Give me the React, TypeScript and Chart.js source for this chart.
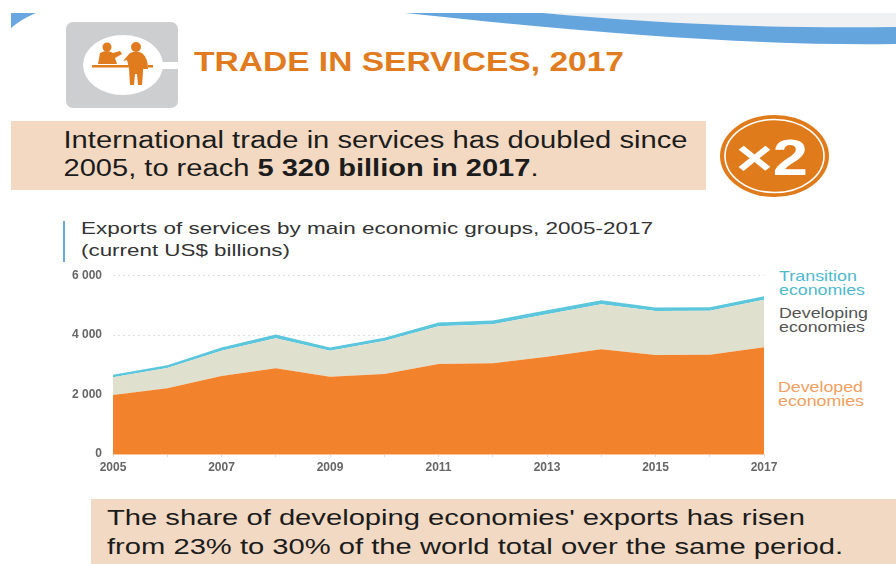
import React, { useEffect, useRef } from "react";
import { Chart, registerables } from "chart.js";

Chart.register(...registerables);

const years = ["2005","2006","2007","2008","2009","2010","2011","2012","2013","2014","2015","2016","2017"];
const developed = [1985,2210,2625,2883,2600,2690,3030,3050,3275,3523,3330,3340,3590];
const developing = [595,680,853,1014,878,1114,1270,1315,1425,1513,1478,1482,1597];
const transition = [90,100,110,125,110,110,125,130,135,135,120,115,125];
const yTicks = [0,2000,4000,6000];

const FONT = "'Liberation Sans', Arial, sans-serif";

function fmt(v: number) {
  return v === 0 ? "0" : `${Math.floor(v / 1000)} ${String(v % 1000).padStart(3, "0")}`;
}

type TProps = { x: number; y: number; w: number; size: number; fill: string; weight?: string; children: React.ReactNode };
function T({ x, y, w, size, fill, weight, children }: TProps) {
  return (
    <text x={x} y={y} textLength={w} lengthAdjust="spacingAndGlyphs" fontSize={size} fill={fill} fontWeight={weight || "normal"} fontFamily={FONT}>
      {children}
    </text>
  );
}

export default function App() {
  const ref = useRef<HTMLCanvasElement | null>(null);
  useEffect(() => {
    const chart = new Chart(ref.current!, {
      type: "line",
      data: {
        labels: years,
        datasets: [
          { label: "Developed economies", data: developed, backgroundColor: "#F3822D", borderWidth: 0, fill: "origin", pointRadius: 0, tension: 0 },
          { label: "Developing economies", data: developing, backgroundColor: "#DFE0CE", borderWidth: 0, fill: "-1", pointRadius: 0, tension: 0 },
          { label: "Transition economies", data: transition, backgroundColor: "#5CC6DC", borderWidth: 0, fill: "-1", pointRadius: 0, tension: 0 },
        ],
      },
      options: {
        animation: false,
        responsive: false,
        devicePixelRatio: 1,
        layout: { padding: { left: 0, right: 36, top: 13.7, bottom: 0 } },
        plugins: { legend: { display: false }, tooltip: { enabled: false } },
        scales: {
          x: {
            offset: false,
            grid: { drawOnChartArea: false, drawTicks: true, tickLength: 3, color: "#E8D8C8" },
            border: { color: "#F3C9A5", width: 1 },
            ticks: {
              autoSkip: false,
              maxRotation: 0,
              minRotation: 0,
              padding: 3,
              color: "#666666",
              font: { family: FONT, size: 12, weight: "bold" },
              callback: (_v, i) => (i % 2 === 0 ? years[i] : ""),
            },
            afterFit: (s: any) => { s.height = 26; },
          },
          y: {
            stacked: true,
            min: 0,
            max: 6000,
            afterBuildTicks: (s: any) => { s.ticks = yTicks.map((value) => ({ value })); },
            grid: { color: "#DEDEDA", lineWidth: 1, drawTicks: true, tickLength: 11, tickColor: "transparent" },
            border: { display: false, dash: [2, 3] },
            ticks: {
              padding: 0,
              color: "#666666",
              font: { family: FONT, size: 12, weight: "bold" },
              callback: (v) => fmt(Number(v)),
            },
            afterFit: (s: any) => { s.width = 53; },
          },
        },
      },
    });
    return () => chart.destroy();
  }, []);

  return (
    <div style={{ position: "absolute", left: 0, top: 0, width: 896, height: 564, overflow: "hidden", background: "#fff" }}>
      <svg width={896} height={564} style={{ position: "absolute", left: 0, top: 0 }}>
        {/* top swoosh */}
        <path d="M543 13 C 640 22, 760 29, 896 27 L896 13 Z" fill="#F0F1F2" />
        <path d="M405 13 L543 13 C 640 22, 760 29, 896 27 L896 44 C 760 46, 600 34, 405 13 Z" fill="#64A5DE" />
        <path d="M11 13 L36 13 C 26 17, 18 22, 11 28 Z" fill="#6AA7E0" />

        {/* icon */}
        <rect x={66} y={22} width={112} height={86} rx={7} fill="#CDCED0" />
        <ellipse cx={123} cy={65} rx={40} ry={30} fill="#fff" />
        <rect x={150} y={62} width={28} height={7} fill="#fff" />
        <g fill="#E07B1E">
          <circle cx={107} cy={47} r={4.5} />
          <path d="M98 64 L100 53 Q107 49 113 53 L120 51 L122 54 L115 58 L117 64 Z" />
          <rect x={92} y={65} width={37} height={2.5} />
          <circle cx={136} cy={47} r={5} />
          <path d="M123 61 L130 53 Q136 50 142 53 Q148 58 148 69 L143 69 L143 72 L142 85 L138 85 L137 74 L135 74 L134 85 L130 85 L129 68 L127 60 Z" />
          <rect x={148} y={65} width={5} height={2.5} />
        </g>

        <T x={194} y={71} w={430} size={27} fill="#E07B20" weight="bold">TRADE IN SERVICES, 2017</T>

        {/* headline box */}
        <rect x={11} y={121} width={695} height={69} fill="#F3D9C2" />
        <T x={63.5} y={148} w={624} size={23} fill="#1c1c1c">International trade in services has doubled since</T>
        <text x={63.5} y={176} fontSize={23} fill="#1c1c1c" fontFamily={FONT} textLength={475} lengthAdjust="spacingAndGlyphs">
          2005, to reach <tspan fontWeight="bold">5 320 billion in 2017</tspan>.
        </text>

        {/* x2 badge */}
        <ellipse cx={774.5} cy={156} rx={54.5} ry={41} fill="#E07B1C" />
        <ellipse cx={774.5} cy={156} rx={49.5} ry={36.5} fill="none" stroke="#fff" strokeWidth={1.6} />
        <T x={736} y={175} w={72} size={50} fill="#fff" weight="bold">×2</T>

        {/* subtitle */}
        <rect x={63} y={221} width={2} height={41} fill="#6AA7D8" />
        <T x={81} y={234} w={572} size={17} fill="#333">Exports of services by main economic groups, 2005-2017</T>
        <T x={81} y={256} w={209} size={17} fill="#333">(current US$ billions)</T>

        {/* series labels */}
        <T x={779} y={281} w={78} size={14.5} fill="#4FB9CE">Transition</T>
        <T x={779} y={295} w={86} size={14.5} fill="#4FB9CE">economies</T>
        <T x={779} y={318} w={89} size={14.5} fill="#555">Developing</T>
        <T x={779} y={332} w={86} size={14.5} fill="#555">economies</T>
        <T x={778} y={392} w={85} size={14.5} fill="#F0A060">Developed</T>
        <T x={778} y={406} w={86} size={14.5} fill="#F0A060">economies</T>

        {/* bottom box */}
        <rect x={91} y={499} width={805} height={65} fill="#F2D9C3" />
        <T x={107} y={525} w={698} size={22} fill="#1c1c1c">The share of developing economies' exports has risen</T>
        <T x={107} y={554} w={736} size={22} fill="#1c1c1c">from 23% to 30% of the world total over the same period.</T>
      </svg>
      <canvas ref={ref} width={740} height={218} style={{ position: "absolute", left: 60, top: 262, width: 740, height: 218 }} />
    </div>
  );
}
